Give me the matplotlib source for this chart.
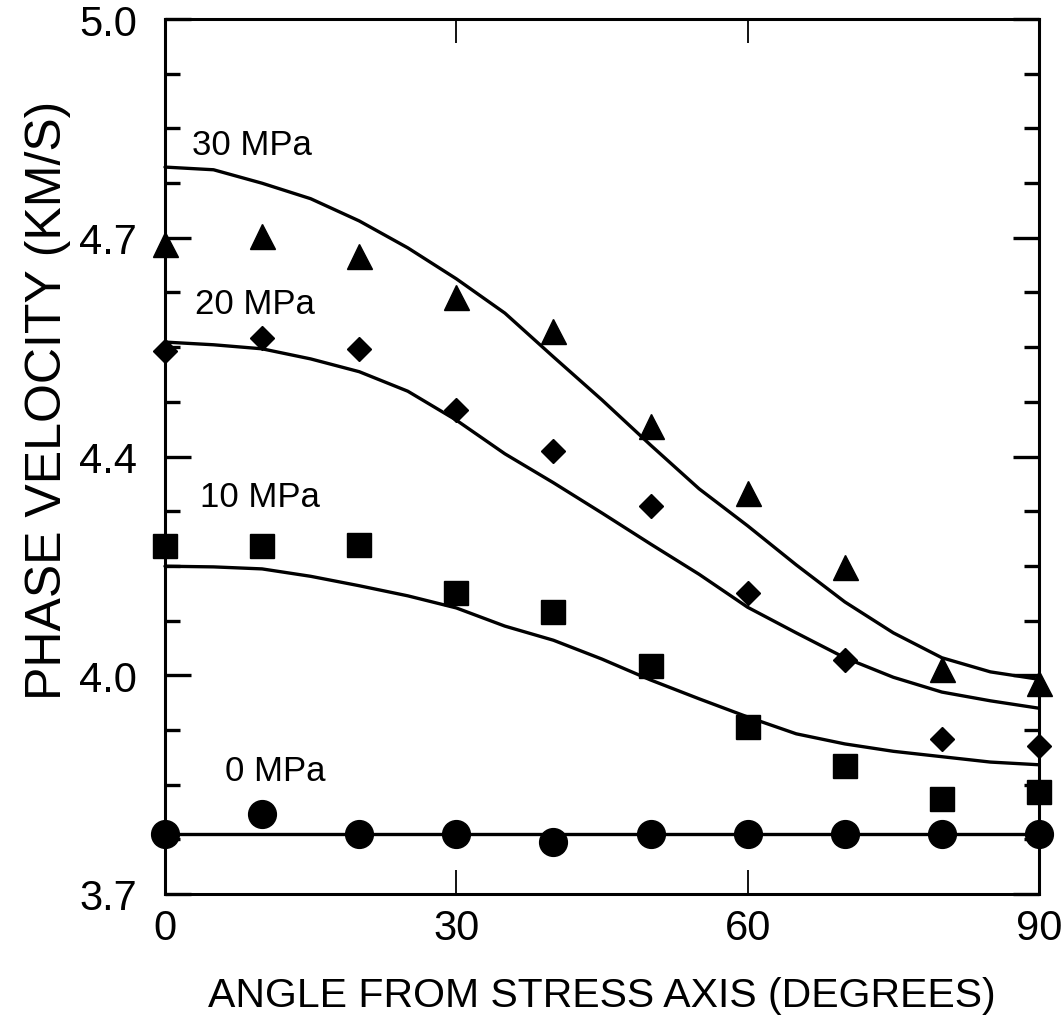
import numpy as np
import matplotlib
matplotlib.use("Agg")
import matplotlib.pyplot as plt

plt.rcParams['font.family'] = ['Liberation Sans', 'DejaVu Sans']

# ---- data ----
angles = [0, 10, 20, 30, 40, 50, 60, 70, 80, 90]

v_30mpa = [4.666, 4.678, 4.648, 4.587, 4.536, 4.395, 4.296, 4.186, 4.034, 4.013]
v_20mpa = [4.507, 4.526, 4.510, 4.419, 4.358, 4.276, 4.147, 4.048, 3.930, 3.920]
v_10mpa = [4.217, 4.217, 4.218, 4.147, 4.119, 4.039, 3.948, 3.890, 3.841, 3.852]
v_0mpa = [3.789, 3.819, 3.789, 3.789, 3.777, 3.789, 3.789, 3.789, 3.789, 3.789]

curve_angles = [0, 5, 10, 15, 20, 25, 30, 35, 40, 45, 50, 55, 60, 65, 70, 75, 80, 85, 90]
curve_30mpa = [4.780, 4.776, 4.756, 4.733, 4.700, 4.660, 4.614, 4.563, 4.498, 4.434,
               4.367, 4.302, 4.247, 4.189, 4.134, 4.088, 4.051, 4.030, 4.019]
curve_20mpa = [4.520, 4.516, 4.510, 4.495, 4.476, 4.447, 4.404, 4.354, 4.311, 4.266,
               4.220, 4.175, 4.126, 4.088, 4.051, 4.022, 4.000, 3.987, 3.976]
curve_10mpa = [4.187, 4.186, 4.183, 4.172, 4.158, 4.143, 4.125, 4.098, 4.077, 4.049,
               4.018, 3.990, 3.963, 3.938, 3.923, 3.912, 3.904, 3.896, 3.892]
line_0mpa_angles = [0, 90]
line_0mpa = [3.789, 3.789]

series_labels = ["30 MPa", "20 MPa", "10 MPa", "0 MPa"]
label_angles = [2.8, 3.1, 3.6, 6.2]
label_values = [4.814, 4.578, 4.290, 3.884]

x_ticks = [0, 30, 60, 90]
x_ticklabels = ["0", "30", "60", "90"]
y_ticklabels = ["3.7", "4.0", "4.4", "4.7", "5.0"]

# ---- figure ----
fig = plt.figure(figsize=(10.63, 10.20), dpi=100)
ax = fig.add_axes([165 / 1063, 1 - 895 / 1020, 874 / 1063, 875 / 1020])

lw = 2.4
for xs, ys in [(curve_angles, curve_30mpa), (curve_angles, curve_20mpa),
               (curve_angles, curve_10mpa), (line_0mpa_angles, line_0mpa)]:
    ax.plot(xs, ys, color='black', lw=lw, clip_on=False,
            solid_joinstyle='round', solid_capstyle='round')

ax.plot(angles, v_30mpa, linestyle='none', marker='^', ms=18, color='black', clip_on=False)
ax.plot(angles, v_20mpa, linestyle='none', marker='D', ms=12.5, color='black', clip_on=False)
ax.plot(angles, v_10mpa, linestyle='none', marker='s', ms=17, color='black', clip_on=False)
ax.plot(angles, v_0mpa, linestyle='none', marker='o', ms=20, color='black', clip_on=False)

for lab, xa, ya in zip(series_labels, label_angles, label_values):
    ax.text(xa, ya, lab, fontsize=25, ha='left', va='center', color='black')

ax.set_xlim(0, 90)
ax.set_ylim(3.7, 5.0)

ax.set_xticks(x_ticks)
ax.set_xticklabels(x_ticklabels)
yt = np.linspace(3.7, 5.0, len(y_ticklabels))
ax.set_yticks(yt)
ax.set_yticklabels(y_ticklabels)
ax.set_yticks(np.linspace(3.7, 5.0, 17), minor=True)

for s in ax.spines.values():
    s.set_linewidth(2.2)

ax.tick_params(axis='y', which='major', direction='in', length=19, width=2.4,
               left=True, right=True, labelsize=30, pad=20)
ax.tick_params(axis='y', which='minor', direction='in', length=11, width=2.4,
               left=True, right=True)
ax.tick_params(axis='x', which='major', direction='in', length=17, width=1.3,
               top=True, bottom=True, labelsize=30, pad=10)

ax.set_xlabel("ANGLE FROM STRESS AXIS (DEGREES)", fontsize=29.5, labelpad=20)
ax.set_ylabel("PHASE VELOCITY (KM/S)", fontsize=36)
ax.yaxis.set_label_coords(-0.108, 0.565)

fig.savefig("out.png", dpi=100)
